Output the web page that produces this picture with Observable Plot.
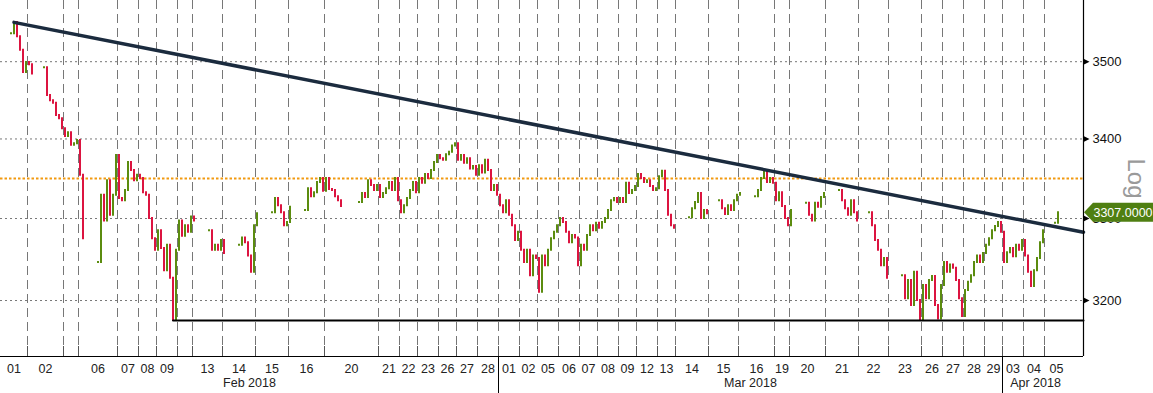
<!DOCTYPE html>
<html><head><meta charset="utf-8">
<script src="https://cdn.jsdelivr.net/npm/d3@7"></script>
<script src="https://cdn.jsdelivr.net/npm/@observablehq/plot@0.6"></script>
<style>
html,body{margin:0;padding:0;background:#fff;}
#chart{width:1153px;height:393px;overflow:hidden;}
</style></head>
<body><div id="chart"></div>
<script>
// ---------- data ----------
const monthLabels = ["Feb 2018", "Mar 2018", "Apr 2018"];
const monthDayCounts = [19, 21, 3];
const dayLabels = [
  "01","02","","06","07","08","09","","13","14","15","16","20","21","22","23","26","27","28",
  "01","02","05","06","07","08","09","12","13","14","15","16","19","20","21","22","23","26","27","28","29",
  "03","04","05"
];
// intraday closes per session (null = no trading in that slot)
const sessions = [
  [null,null,null,3537,3552,3533,3515,3486,3499],
  [3496,3484,null,null,null,3492,3456,3449,3446,3430,3426,3413],
  [3403,3408,3392,3394,3398],
  [3354,3275,null,null,null,null,3246,3329,3297,3347,3304,3329,3379],
  [3325,3322,3335,3370,3360,3347,3354],
  [3350,3332,3329,3300,3275,3261],
  [3285,3263,3236,3267,3227,3176,3261],
  [3297,3278,3291,3283,3302],
  [3297,null,null,null,null,3285,3261,3267,3261,3273],
  [3257,null,null,null,null,3267,3276,3270,3254,3234,3291],
  [3306,null,null,null,null,3307,3325,3316,3307,3291,3295],
  [3314,null,null,null,null,3310,3337,3327,3332,3345,3350,3334],
  [3350,3336,3335,3327,3322,3315,null,null,null,null,null,3320,3331,3326,3347,3341,3335,3341],
  [3326,3331,3337,3345,3335,3350,3322],
  [3307,3316,3325,3335,3345,3332],
  [3350,3344,3355,3350,3360,3370,3379],
  [3375,3373,3380,3383,3391,3394],
  [3373,3379,3369,3375,3362,3365,3354],
  [3366,3357,3373,3360,3335,3341,3329],
  [3316,3307,3322,3304,3291,3273,3283],
  [3261,3246,3261,3230,3254,3251],
  [3210,3254,3242,3261,3275,3283,3291],
  [3300,3295,3283,3270,3279,3276,3242],
  [3267,3261,3279,3291,3285,3294],
  [3288,3295,3300,3310,3322,3325,3320],
  [3325,3320,3344,3331,3335,3340],
  [3355,3350,3345,3347,3340,3335,3337],
  [3352,3359,3335,3304,3291,3288],
  [null,null,null,null,3301,3312,3320,3331,3300,3310,3306],
  [null,null,null,3322,3312,3305,3316,3310,3322,3329],
  [3331,null,null,null,null,3327,3335,3350,3360,3345,3350,3344],
  [3322,3332,3315,3300,3291],
  [3310,null,null,null,null,3319,3304,3297,3319,3314,3326,3331],
  [null,null,null,null,3335,3322,3312,3304,3322,3307,3297],
  [null,null,null,3307,3291,3273,3261,3242,3251,3227],
  [null,null,null,null,3230,3202,3224,3194,3234,3200,3176],
  [3218,3202,3224,3229,3194,3178,3218],
  [3246,3234,3243,3239,3224,3202,3181],
  [3212,3222,3230,3246,3254,3246,3257],
  [3267,3275,3285,3290,3295,3283],
  [3246,3258,3263,3253,3267,3261,3273],
  [3254,3234,3217,3236,3251,3270,3285],
  [null,null,null,3294,3307,null,null,null]
];
const yTicks = [3200, 3300, 3400, 3500];
const yDomain = [3133.5, 3581.3];
const xEnd = 361;
const resistanceLevel = 3350;
const trendline = [{bar: 4.5, value: 3552}, {bar: 361, value: 3283}];
const support = [{bar: 57.5, value: 3176}, {bar: 361, value: 3176}];
const lastPrice = 3307;

// ---------- derived ----------
const bars = [];
const days = [];
let idx = 0, prev = null;
sessions.forEach((s, d) => {
  const start = idx;
  s.forEach(c => {
    if (c == null) { prev = null; }
    else {
      const o = prev == null ? c : prev;
      bars.push({i: idx + 0.5, top: Math.max(o, c), bot: Math.min(o, c), up: c >= o});
      prev = c;
    }
    idx++;
  });
  days.push({start, end: idx, center: (start + idx) / 2, label: dayLabels[d]});
});
const months = [];
let di = 0;
monthDayCounts.forEach((n, m) => {
  const s = days[di].start, e = days[di + n - 1].end;
  months.push({start: s, end: e, center: (s + e) / 2, label: monthLabels[m]});
  di += n;
});
const boundaries = days.slice(1).map(d => d.start);
const monthBreaks = months.slice(1).map(m => m.start);

const FONT = "'Liberation Sans', Arial, sans-serif";
const rightTri = {draw(ctx) { ctx.moveTo(0, -3); ctx.lineTo(6, 0); ctx.lineTo(0, 3); ctx.closePath(); }};
const bottom = yDomain[0];

const chart = Plot.plot({
  width: 1153, height: 393,
  marginLeft: 0, marginRight: 70, marginTop: 0, marginBottom: 37,
  x: {domain: [0, xEnd], axis: null},
  y: {type: "log", domain: yDomain, axis: null},
  style: {fontFamily: FONT, fontSize: "13px", background: "white", overflow: "visible"},
  marks: [
    Plot.ruleY(yTicks, {stroke: "#777", strokeDasharray: "2,3", strokeWidth: 1}),
    Plot.ruleX(boundaries, {stroke: "#777", strokeDasharray: "9,5", strokeWidth: 1, insetBottom: 10}),
    Plot.ruleX(boundaries, {x: d => d, y1: () => bottom, y2: () => bottom, insetTop: -10, stroke: "#555"}),
    Plot.ruleX(monthBreaks, {x: d => d, y1: () => bottom, y2: () => bottom, insetBottom: -37, stroke: "#000"}),
    Plot.ruleY([resistanceLevel], {stroke: "#f29a10", strokeDasharray: "2.5,2", strokeWidth: 2}),
    Plot.ruleX(bars, {x: "i", y1: "top", y2: "bot", stroke: d => d.up ? "#5b8c0f" : "#dc1440",
      strokeWidth: 2, insetTop: -1, insetBottom: -1}),
    Plot.line(trendline, {x: "bar", y: "value", stroke: "#1b2b3e", strokeWidth: 3.5}),
    Plot.line(support, {x: "bar", y: "value", stroke: "#000", strokeWidth: 2}),
    Plot.ruleY([bottom], {stroke: "#000", strokeWidth: 1.2}),
    Plot.ruleX([xEnd], {stroke: "#000", strokeWidth: 1.2}),
    Plot.dot(yTicks, {x: () => xEnd, y: d => d, symbol: rightTri, fill: "#000", stroke: null}),
    Plot.text(yTicks, {x: () => xEnd, y: d => d, text: d => String(d), dx: 9, textAnchor: "start", fill: "#111", fontSize: 13}),
    Plot.text(days, {x: "center", y: () => bottom, text: "label", dy: 12, fill: "#222", fontSize: 12.5}),
    Plot.text(months, {x: "center", y: () => bottom, text: "label", dy: 26, fill: "#222", fontSize: 12.5}),
    Plot.text(["Log"], {frameAnchor: "right", dx: 52, rotate: 90, textAnchor: "middle", fontSize: 24, fill: "#9a9a9a"})
  ]
});

// last price tag
const svg = d3.select(chart);
const yy = chart.scale("y").apply(lastPrice);
const xx = chart.scale("x").apply(xEnd);
svg.append("path")
  .attr("d", `M${xx + 1},${yy} L${xx + 10},${yy - 9.5} H1153 V${yy + 9.5} H${xx + 10} Z`)
  .attr("fill", "#4f7f12");
svg.append("text")
  .attr("x", (xx + 10 + 1153) / 2).attr("y", yy).attr("dy", "0.35em")
  .attr("text-anchor", "middle").attr("fill", "#fff")
  .attr("font-family", FONT).attr("font-size", 12.5)
  .text(lastPrice.toFixed(4));

document.getElementById("chart").appendChild(chart);
</script>
</body></html>
